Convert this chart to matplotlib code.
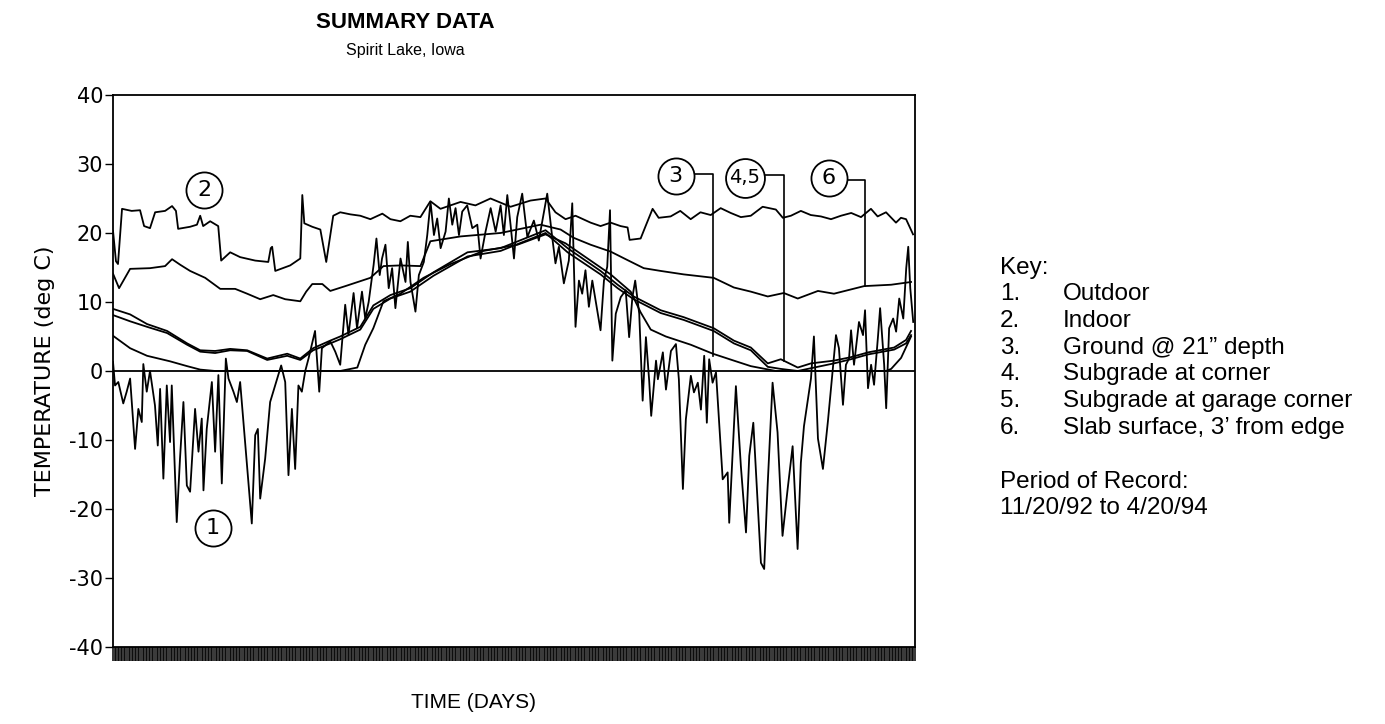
import numpy as np
import matplotlib.pyplot as plt

plt.rcParams['font.family'] = ['Liberation Sans', 'DejaVu Sans']
plt.rcParams['axes.unicode_minus'] = False

# ---- data (x in days from 11/20/92, y in deg C) ----
outdoor_day = [0, 1.3, 3.4, 6.6, 8.8, 11, 14.2, 16.3, 18.5, 19.5, 21.7, 23.8, 27, 28.8, 30.3,
               32.4, 34.6, 36.7, 37.8, 41, 43.1, 45.3, 47.5, 49.6, 52.8, 55, 57.1, 58.2, 60.3,
               63.6, 65.7, 67.8, 70, 72.6, 74.3, 77.5, 79.7, 81.8, 85, 89.3, 91.5, 93.2, 94.7,
               97.9, 101.1, 104.3, 108.2, 110.8, 112.9, 115.1, 117.2, 119.3, 121.5, 123.7, 125.8,
               130, 132.7, 134.4, 139.8, 143, 146.2, 149.4, 151.5, 154.8, 157, 160.2, 162.3,
               164.5, 167.7, 169.5, 171.6, 173.1, 175.3, 177.4, 179.6, 181.7, 185, 188.2, 189.7,
               191.4, 194.6, 196.8, 200, 202.2, 204.3, 206.5, 208.6, 210.8, 214, 216.1, 218.3,
               220.4, 222.6, 224.7, 227.9, 231.2, 234.4, 236.5, 239.7, 243, 246.2, 249.4, 251.5,
               253.7, 255.8, 258, 260.1, 263.3, 266.6, 270.8, 274, 279.4, 282.6, 284.7, 286.9,
               290.1, 293.3, 295.5, 297.6, 299.8, 301.9, 304, 306.2, 308.4, 311.6, 313.7, 315.9,
               318, 319.8, 321.3, 323.5, 326.7, 329.9, 332.1, 334.2, 336, 338.6, 340.8, 342.9,
               345, 346.3, 349.4, 350.6, 353.8, 355.8, 359, 362.2, 364.1, 366.7, 368.6, 371.8,
               373.8, 376.3, 378.3, 380.4, 382.1, 383.6, 385.8, 388, 392.3, 395.5, 396.5, 400.8,
               404, 407.3, 409.4, 412, 414.8, 416.9, 419, 421.2, 424.4, 427.6, 430.8, 434.1,
               437.3, 440.5, 442.6, 444.6, 449.1, 451, 453.6, 456.8, 460, 462.6, 465.2, 467.1,
               469.7, 471.6, 473.6, 474.9, 476.8, 480, 482.6, 483.9, 485.8, 487.8, 489.7, 492.3,
               493.6, 496.2, 497.5, 499.4, 502, 503.9, 505.9, 508.5, 510.4, 511.7, 513, 514.9]
outdoor_temp = [1.3, -2.1, -1.6, -4.7, -3, -1.1, -11.3, -5.5, -7.4, 1, -3, 0, -5, -10.8, -2.6,
                -15.6, -2.1, -10.3, -2.1, -21.9, -12.7, -4.5, -16.6, -17.5, -5.5, -11.7, -6.9,
                -17.3, -8.4, -1.6, -11.7, -0.6, -16.3, 1.8, -1.1, -3, -4.5, -1.6, -10.3, -22.1,
                -9.3, -8.4, -18.5, -12.7, -4.5, -2.1, 0.8, -1.6, -15.1, -5.5, -14.2, -2.1, -3, 0,
                1.8, 5.8, -3, 3.3, 4.3, 2.8, 0.9, 9.6, 5.2, 11.3, 6.2, 11.5, 7.6, 10, 15.4, 19.2,
                13.9, 16.3, 18.3, 12, 14.9, 9.1, 16.3, 12.9, 18.7, 12.9, 8.6, 13.9, 15.8, 19.7,
                24.5, 19.7, 22.1, 17.8, 20.2, 25, 21.2, 23.6, 19.7, 23.1, 24, 20.7, 21.2, 16.3,
                20.2, 23.6, 20.2, 24, 19.7, 25.5, 21.2, 16.3, 22.3, 25.7, 19.4, 21.8, 18.9, 25.7,
                19.4, 15.6, 18, 12.7, 16, 24.3, 6.4, 13.1, 11.2, 14.6, 9.3, 13.1, 8.8, 5.9, 13.1,
                15.1, 23.3, 1.5, 8.3, 10.7, 11.7, 4.9, 10.7, 13.1, 8.3, -4.3, 4.9, -1.4, -6.5,
                1.5, -1.2, 2.7, -2.7, 2.9, 3.9, -1.2, -17.1, -7, -0.7, -3.1, -1.7, -5.6, 2.2,
                -7.5, 1.7, -1.7, -0.2, -15.7, -14.7, -22, -2.2, -13.8, -23.4, -12.3, -7.5, -19.1,
                -27.8, -28.7, -16.7, -1.7, -8.9, -23.9, -17.1, -10.9, -25.8, -13.3, -8, -1.1, 5,
                -9.8, -14.2, -7.3, -1.1, 5.2, 3.3, -4.9, 0.9, 1.8, 5.9, 0.9, 7.1, 5.2, 8.8, -2.5,
                0.9, -2, 5.2, 9.1, 0.9, -5.4, 6.2, 7.6, 5.7, 10.5, 7.6, 14.9, 18, 12, 7.1]

indoor_day = [0, 1.9, 3.2, 5.8, 12, 17.4, 20, 23.8, 27.1, 33.5, 38, 40.5, 41.9, 49.6, 54, 56.1,
              58, 62.5, 67.7, 69.6, 75.4, 81.8, 91.5, 99.9, 101.5, 102.4, 104.4, 114, 120.5,
              121.8, 123.1, 128.2, 133.4, 137.2, 141.7, 146.2, 152.7, 159.1, 165.6, 173.3,
              178.5, 184.9, 191.3, 197.8, 204.2, 210.7, 223.6, 233.2, 242.9, 255.8, 268.6,
              278.3, 284.7, 291.2, 297.6, 307.3, 313.7, 320.2, 326.6, 331.1, 332.4, 339.5,
              342.7, 347.2, 351.1, 358.8, 365, 371.7, 378, 384.6, 391, 397.5, 404, 410.4, 418,
              426.5, 431, 436.2, 442.6, 449, 455.5, 462, 468.4, 475, 481.3, 487.7, 492, 497.4,
              503.8, 507, 510.3, 514.8]
indoor_temp = [20.3, 15.9, 15.5, 23.5, 23.2, 23.3, 21.0, 20.7, 23.0, 23.2, 23.9, 23.2, 20.6,
               20.9, 21.2, 22.5, 21.0, 21.7, 21.0, 16.0, 17.2, 16.5, 16.0, 15.8, 17.8, 18.0,
               14.5, 15.3, 16.3, 25.5, 21.4, 20.9, 20.5, 15.8, 22.5, 23.0, 22.7, 22.5, 22.0,
               22.8, 22.0, 21.7, 22.5, 22.3, 24.6, 23.5, 24.5, 24.0, 25.0, 23.8, 24.7, 25.0,
               23.0, 22.0, 22.5, 21.5, 21.0, 21.5, 21.0, 20.8, 19.0, 19.2, 21.0, 23.5, 22.2,
               22.4, 23.2, 22.0, 23.0, 22.6, 23.6, 22.9, 22.3, 22.5, 23.8, 23.4, 22.2, 22.5,
               23.2, 22.6, 22.4, 22.0, 22.5, 22.9, 22.3, 23.5, 22.4, 23.0, 21.5, 22.2, 22.0,
               19.8]

ground_day = [0, 11, 21.9, 36.7, 47.7, 56.1, 65.7, 146.2, 157.2, 162.3, 167.5, 174, 184.9,
              199.8, 217.2, 238.4, 260.3, 278.3, 291.2, 307.3, 320.2, 333.1, 339.5, 346,
              355.7, 371.8, 386, 399.5, 410.4, 426.5, 497.4, 500.7, 507.1, 513.5]
ground_temp = [5.1, 3.3, 2.2, 1.4, 0.7, 0.2, 0, 0, 0.5, 3.8, 6.2, 10.1, 11.2, 13.5, 15.5,
               17.4, 18.3, 19.8, 18.5, 16.0, 14.0, 11.5, 8.5, 6.0, 5.0, 3.8, 2.5, 1.5, 0.7,
               0, 0, 0.3, 1.9, 5.0]

sub_day = [0, 11, 21.9, 34.8, 47.7, 56.1, 65.7, 75.4, 86.3, 99.2, 112.1, 120.5, 128.8, 139.8,
           146.2, 159.1, 167.5, 178.5, 191.3, 206.2, 228.1, 249.4, 278.3, 292.5, 313.7, 324.7,
           335, 352.4, 367.2, 386.5, 399.5, 410.4, 421.3, 429.7, 440.6, 449.1, 463.9, 474.8,
           485.9, 502.6, 510.3, 513.5]
sub_corner_temp = [9.0, 8.2, 6.8, 5.8, 4.0, 3.0, 2.9, 3.2, 3.0, 1.8, 2.5, 1.8, 3.3, 4.4, 5.0,
                   6.4, 9.5, 11.0, 12.0, 14.3, 17.2, 17.8, 20.4, 17.8, 14.5, 12.5, 10.8, 8.8,
                   7.8, 6.2, 4.4, 3.4, 1.1, 1.7, 0.5, 1.1, 1.5, 2.0, 2.7, 3.4, 4.5, 5.8]
sub_garage_temp = [8.1, 7.2, 6.4, 5.5, 3.8, 2.8, 2.6, 3.0, 2.9, 1.6, 2.2, 1.6, 3.0, 4.0, 4.6,
                   6.0, 9.0, 10.5, 11.5, 13.8, 16.6, 17.4, 20.0, 17.2, 14.0, 12.0, 10.4, 8.4,
                   7.4, 5.8, 4.0, 3.0, 0.6, 0.3, 0.0, 0.4, 1.1, 1.7, 2.4, 3.1, 4.0, 5.2]

slab_day = [0, 3.9, 11, 23.8, 33.5, 38, 43.2, 49.6, 59.3, 69, 78.6, 86.3, 94.7, 103.1, 110.8,
            120.5, 124.3, 128.2, 134.7, 139.8, 149.5, 165.6, 174, 184.9, 197.8, 204.2, 223.6,
            249.4, 275.1, 288, 296.4, 307.3, 320.2, 329.9, 341.5, 352.4, 367.2, 386.5, 399.5,
            410.4, 421.3, 431.6, 440.6, 453.6, 463.9, 483.3, 500.7, 513.5]
slab_temp = [14.1, 12.0, 14.8, 14.9, 15.2, 16.2, 15.4, 14.5, 13.5, 11.9, 11.9, 11.2, 10.4,
             11.0, 10.4, 10.1, 11.5, 12.6, 12.6, 11.6, 12.3, 13.5, 15.2, 15.3, 15.2, 18.8,
             19.5, 20.0, 21.2, 20.5, 19.3, 18.3, 17.3, 16.2, 14.9, 14.5, 14.0, 13.5, 12.1,
             11.5, 10.8, 11.3, 10.5, 11.6, 11.2, 12.3, 12.5, 12.9]

key_items = ['Outdoor', 'Indoor', 'Ground @ 21\u201d depth', 'Subgrade at corner',
             'Subgrade at garage corner', 'Slab surface, 3\u2019 from edge']

# ---- figure ----
fig = plt.figure(figsize=(13.85, 7.24), dpi=100)
ax = fig.add_axes([0.0816, 0.1064, 0.579, 0.7624])

lw = 1.3
for d, t in [(outdoor_day, outdoor_temp), (indoor_day, indoor_temp),
             (ground_day, ground_temp), (sub_day, sub_corner_temp),
             (sub_day, sub_garage_temp), (slab_day, slab_temp)]:
    ax.plot(d, t, color='black', lw=lw)

ax.axhline(0, color='black', lw=1.3)
ax.set_xlim(0, 516)
ax.set_ylim(-40, 40)

axis_font = ['DejaVu Sans']
ax.set_yticks(np.arange(-40, 41, 10))
ax.tick_params(axis='y', direction='out', length=6, width=1, labelsize=15, pad=1)
for lab in ax.get_yticklabels():
    lab.set_family(axis_font)
ax.set_xticks([])
ax.set_xticks(np.arange(0, 517, 1), minor=True)
ax.tick_params(axis='x', which='minor', direction='out', length=10, width=1.1)
for s in ax.spines.values():
    s.set_linewidth(1.3)

ax.set_ylabel('TEMPERATURE (deg C)', fontsize=16, labelpad=10, family=axis_font)
fig.text(473 / 1385, 1 - 703 / 724, 'TIME (DAYS)', fontsize=15, ha='center', va='center')

# circled callouts
callouts = [('2', 58.6, 26.2), ('1', 64.4, -22.8), ('3', 362, 28.3), ('4,5', 406.5, 28),
            ('6', 460.5, 28)]
for lab, cx, cy in callouts:
    ax.plot(cx, cy, marker='o', ms=26 if len(lab) == 1 else 28, mfc='white', mec='black',
            mew=1.3, zorder=5)
    ax.text(cx, cy, lab, ha='center', va='center', fontsize=16 if len(lab) == 1 else 14,
            family=axis_font, zorder=6)

leaders = [([374, 386, 386], [28.6, 28.6, 2.2]),
           ([418, 431.6, 431.6], [28.4, 28.4, 1.4]),
           ([472, 483.8, 483.8], [27.7, 27.7, 12.3])]
for lx, ly in leaders:
    ax.plot(lx, ly, color='black', lw=1.2, zorder=4)

# titles
fig.text(405 / 1385, 1 - 22 / 724, 'SUMMARY DATA', fontsize=16, fontweight='bold',
         ha='center', va='center')
fig.text(405 / 1385, 1 - 50 / 724, 'Spirit Lake, Iowa', fontsize=11.5,
         ha='center', va='center')

# key
key_fs = 17.5
fig.text(1000 / 1385, 1 - 268 / 724, 'Key:', fontsize=key_fs, va='center')
for i, item in enumerate(key_items):
    y = 1 - (294 + i * 26.8) / 724
    fig.text(1000 / 1385, y, f'{i + 1}.', fontsize=key_fs, va='center')
    fig.text(1063 / 1385, y, item, fontsize=key_fs, va='center')
fig.text(1000 / 1385, 1 - 482 / 724, 'Period of Record:', fontsize=key_fs, va='center')
fig.text(1000 / 1385, 1 - 508 / 724, '11/20/92 to 4/20/94', fontsize=key_fs, va='center')

fig.savefig('out.png', dpi=100)
